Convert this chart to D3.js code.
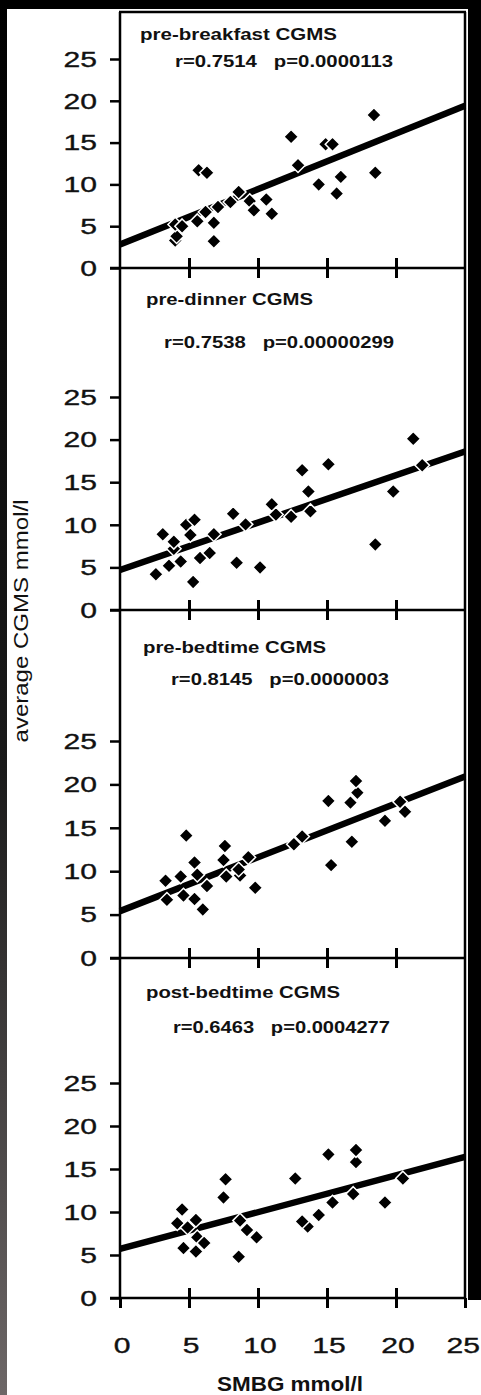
<!DOCTYPE html>
<html><head><meta charset="utf-8">
<script src="https://cdn.jsdelivr.net/npm/d3@7"></script>
<style>
html,body{margin:0;padding:0;background:#fff;}
svg{display:block;}
text{font-family:"Liberation Sans",Arial,sans-serif;fill:#111;}
</style></head><body>
<svg id="c" width="481" height="1395"></svg>
<script>
// ---------- data ----------
const xTicks = [0, 5, 10, 15, 20, 25];
const yTicks = [0, 5, 10, 15, 20, 25];
const panelTitles = ["pre-breakfast CGMS", "pre-dinner CGMS", "pre-bedtime CGMS", "post-bedtime CGMS"];
const panelStats = ["r=0.7514   p=0.0000113", "r=0.7538   p=0.00000299", "r=0.8145   p=0.0000003", "r=0.6463   p=0.0004277"];
const xLabel = "SMBG mmol/l";
const yLabel = "average CGMS mmol/l";

const preBreakfast = [[4.0,3.3],[4.1,3.8],[4.0,5.2],[4.5,5.0],[5.6,5.6],[6.2,6.7],[6.8,5.4],[6.8,3.2],[7.1,7.3],
  [5.7,11.7],[6.3,11.4],[8.0,7.9],[8.6,9.1],[9.4,8.0],[9.7,6.9],[10.6,8.2],[11.0,6.5],[12.4,15.7],[12.9,12.3],
  [14.4,10.0],[14.9,14.8],[15.4,14.8],[15.7,8.9],[16.0,10.9],[18.4,18.3],[18.5,11.4]];
const preDinner = [[2.6,4.2],[3.55,5.2],[4.4,5.7],[3.9,7.2],[3.1,8.9],[3.9,8.0],[4.8,10.0],[5.4,10.6],[5.1,8.8],[5.3,3.3],
  [5.8,6.1],[6.5,6.7],[6.8,8.9],[8.2,11.3],[8.45,5.55],[9.1,10.05],[10.15,5.0],[11.0,12.4],[11.3,11.2],[12.4,10.95],
  [13.2,16.4],[13.65,13.9],[13.8,11.6],[15.1,17.1],[18.5,7.7],[19.8,13.9],[21.25,20.1],[21.9,17.0]];
const preBedtime = [[3.4,6.7],[3.3,8.9],[4.6,7.2],[4.4,9.4],[4.8,14.1],[5.4,11.0],[5.6,9.6],[5.4,6.8],[6.0,5.6],[6.3,8.3],
  [7.5,11.3],[7.6,12.9],[7.7,9.4],[8.7,9.5],[8.6,10.2],[9.3,11.6],[9.8,8.1],[12.6,13.1],[13.2,14.0],[15.1,18.1],
  [15.3,10.7],[16.7,17.9],[17.2,19.05],[17.1,20.4],[16.8,13.4],[19.2,15.8],[20.3,18.0],[20.65,16.85]];
const postBedtime = [[4.5,10.3],[4.15,8.7],[4.9,8.2],[5.5,9.07],[5.6,7.05],[6.1,6.4],[4.6,5.8],[5.5,5.4],[7.65,13.8],[7.5,11.7],
  [8.7,9.0],[9.2,7.9],[9.9,7.05],[8.6,4.8],[12.7,13.9],[13.6,8.3],[13.2,8.9],[14.4,9.65],[15.4,11.1],[15.1,16.7],
  [16.9,12.1],[17.1,15.8],[17.1,17.2],[19.2,11.1],[20.5,13.9]];
const panelData = [preBreakfast, preDinner, preBedtime, postBedtime];
// regression line value at SMBG = 0 and at SMBG = 25
const fitAt0 = [2.8, 4.7, 5.4, 5.7];
const fitAt25 = [19.4, 18.6, 20.9, 16.4];

// ---------- layout ----------
const svg = d3.select("#c");
const X0 = 120, X1 = 465, FRAME_TOP = 12;
const panelRanges = [[268, 59], [610, 397], [958, 741], [1298, 1083]];
const titlePos = [[140, 40, 197], [146, 305, 167], [143, 653, 183], [146, 998, 194]];
const statPos = [[175, 67, 218], [164, 348, 230], [171, 685, 218], [173, 1033, 217]];
const SX = 1.4;
const FONT = "'Liberation Sans',Arial,sans-serif";

// photo border
const defs = svg.append("defs");
const lg = defs.append("linearGradient").attr("id","lg").attr("x1",0).attr("x2",0).attr("y1",0).attr("y2",1);
lg.append("stop").attr("offset","0").attr("stop-color","#000");
lg.append("stop").attr("offset","0.55").attr("stop-color","#1a1a1a");
lg.append("stop").attr("offset","1").attr("stop-color","#6d6767");
svg.append("rect").attr("x",0).attr("y",0).attr("width",481).attr("height",1395).attr("fill","#fff");
svg.append("rect").attr("x",0).attr("y",0).attr("width",481).attr("height",9).attr("fill","#000");
svg.append("rect").attr("x",0).attr("y",0).attr("width",7).attr("height",1395).attr("fill","url(#lg)");
svg.append("rect").attr("x",468).attr("y",0).attr("width",13).attr("height",1300).attr("fill","#000");

const x = d3.scaleLinear().domain([0, 25]).range([X0, X1]);

// frame
svg.append("line").attr("x1",X0).attr("x2",X0).attr("y1",FRAME_TOP).attr("y2",1298).attr("stroke","#000").attr("stroke-width",2.5);
svg.append("line").attr("x1",X1).attr("x2",X1).attr("y1",FRAME_TOP).attr("y2",1298).attr("stroke","#000").attr("stroke-width",2.5);
svg.append("line").attr("x1",X0-1).attr("x2",X1+1).attr("y1",FRAME_TOP).attr("y2",FRAME_TOP).attr("stroke","#000").attr("stroke-width",2.5);

const diamond = d3.symbol().type(d3.symbolDiamond2).size(135);

panelData.forEach((pts, i) => {
  const [y0px, y25px] = panelRanges[i];
  const y = d3.scaleLinear().domain([0, 25]).range([y0px, y25px]);
  const g = svg.append("g");

  // y axis tick marks (outward)
  const ya = g.append("g").attr("transform", `translate(${X0},0)`)
    .call(d3.axisLeft(y).tickValues(yTicks).tickSize(10).tickFormat(() => ""));
  ya.select(".domain").remove();
  ya.selectAll(".tick line").attr("stroke","#000").attr("stroke-width",2.5);
  // y tick labels (horizontally stretched like the scanned original)
  g.selectAll("text.yt").data(yTicks).join("text").attr("class","yt")
    .attr("transform", d => `translate(97,${y(d)}) scale(${SX},1)`)
    .attr("dy","0.36em").attr("text-anchor","end").attr("font-size",21.5)
    .attr("stroke","#111").attr("stroke-width",0.35)
    .attr("font-family",FONT).text(d => d);

  // x axis line with crossing ticks
  g.append("line").attr("x1",X0-10).attr("x2",X1+1).attr("y1",y0px).attr("y2",y0px).attr("stroke","#000").attr("stroke-width",2.5);
  const tickSet = i === 3 ? xTicks : xTicks.slice(1, 5);
  const xd = g.append("g").attr("transform",`translate(0,${y0px})`)
    .call(d3.axisBottom(x).tickValues(tickSet).tickSize(10).tickFormat(() => ""));
  xd.select(".domain").remove();
  xd.selectAll(".tick line").attr("stroke","#000").attr("stroke-width",3);
  const xu = g.append("g").attr("transform",`translate(0,${y0px})`)
    .call(d3.axisTop(x).tickValues(xTicks.slice(1,5)).tickSize(10).tickFormat(() => ""));
  xu.select(".domain").remove();
  xu.selectAll(".tick line").attr("stroke","#000").attr("stroke-width",3);
  if (i === 3) {
    g.selectAll("text.xt").data(xTicks).join("text").attr("class","xt")
      .attr("transform", d => d === 25 ? `translate(480,1353) scale(${SX},1)` : `translate(${x(d)+2},1353) scale(${SX},1)`)
      .attr("text-anchor", d => d === 25 ? "end" : "middle").attr("font-size",21.5)
      .attr("stroke","#111").attr("stroke-width",0.35)
      .attr("font-family",FONT).text(d => d);
  }

  // regression line
  g.append("line").attr("x1",x(0)).attr("y1",y(fitAt0[i])).attr("x2",x(25)).attr("y2",y(fitAt25[i]))
    .attr("stroke","#000").attr("stroke-width",6.5).attr("stroke-linecap","butt");

  // points
  g.selectAll("path.pt").data(pts).join("path").attr("class","pt")
    .attr("d", diamond)
    .attr("transform", d => `translate(${x(d[0])},${y(d[1])})`)
    .attr("fill","#000").attr("stroke","#fff").attr("stroke-width",1.5);

  // titles
  const [tx, ty, tl] = titlePos[i];
  g.append("text").attr("x",tx).attr("y",ty).attr("font-size",16.5).attr("font-weight","bold")
    .attr("textLength",tl).attr("lengthAdjust","spacingAndGlyphs").text(panelTitles[i]);
  const [sx, sy, sl] = statPos[i];
  g.append("text").attr("x",sx).attr("y",sy).attr("font-size",16.5).attr("font-weight","bold")
    .style("white-space","pre")
    .attr("textLength",sl).attr("lengthAdjust","spacingAndGlyphs").text(panelStats[i]);
});

// axis labels
svg.append("text").attr("x",290).attr("y",1391).attr("text-anchor","middle")
  .attr("font-size",20).attr("font-weight","bold")
  .attr("textLength",146).attr("lengthAdjust","spacingAndGlyphs").text(xLabel);
svg.append("text").attr("transform","translate(28,621) rotate(-90)").attr("text-anchor","middle")
  .attr("font-size",20)
  .attr("textLength",243).attr("lengthAdjust","spacingAndGlyphs").text(yLabel);
</script>
</body></html>
